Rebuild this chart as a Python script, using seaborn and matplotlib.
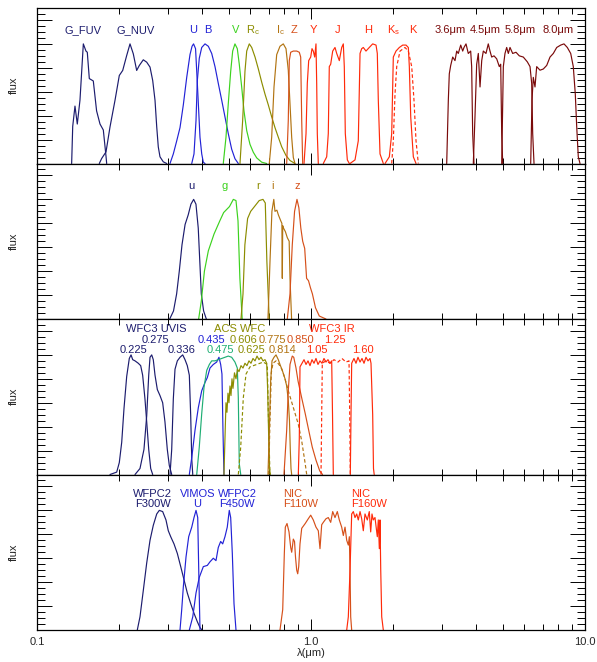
import numpy as np
import pandas as pd
import matplotlib
matplotlib.use("Agg")
import matplotlib.pyplot as plt
import seaborn as sns
from matplotlib.ticker import MultipleLocator, FixedLocator, FixedFormatter, NullFormatter

# ---------------- panel 1: GALEX, Johnson/Cousins, NIR, IRAC ----------------
fuv_wl = [0.1338, 0.1350, 0.1376, 0.1403, 0.1435, 0.1476, 0.1509, 0.1526, 0.1552, 0.1605, 0.1650, 0.1698, 0.1746, 0.1786, 0.1796]
fuv_tr = [0.0, 0.31, 0.48, 0.33, 0.53, 1.0, 0.94, 0.93, 0.71, 0.69, 0.44, 0.33, 0.28, 0.06, 0.0]
nuv_wl = [0.1688, 0.1722, 0.1786, 0.1847, 0.1926, 0.1997, 0.2055, 0.2125, 0.2185, 0.2246, 0.2311, 0.2362, 0.2443, 0.2514, 0.2585, 0.2644, 0.2696, 0.2735, 0.2771, 0.2811, 0.2890, 0.2975]
nuv_tr = [0.0, 0.042, 0.097, 0.306, 0.528, 0.736, 0.778, 0.903, 1.0, 0.917, 0.778, 0.819, 0.867, 0.847, 0.806, 0.694, 0.528, 0.306, 0.139, 0.056, 0.014, 0.0]
U_wl = [0.3058, 0.3144, 0.3236, 0.3326, 0.3420, 0.3519, 0.3617, 0.3680, 0.3727, 0.3790, 0.3828, 0.3880, 0.3934, 0.3992, 0.4046, 0.4104]
U_tr = [0.0, 0.08, 0.19, 0.30, 0.49, 0.72, 0.91, 0.98, 1.0, 0.96, 0.77, 0.50, 0.22, 0.08, 0.01, 0.0]
B_wl = [0.3671, 0.3741, 0.3805, 0.3846, 0.3911, 0.3992, 0.4104, 0.4220, 0.4341, 0.4463, 0.4588, 0.4721, 0.4853, 0.4990, 0.5134, 0.5278, 0.5429]
B_tr = [0.0, 0.08, 0.36, 0.69, 0.88, 0.97, 1.0, 0.98, 0.92, 0.81, 0.67, 0.53, 0.39, 0.25, 0.12, 0.04, 0.0]
V_wl = [0.4785, 0.4895, 0.4990, 0.5092, 0.5178, 0.5278, 0.5383, 0.5473, 0.5585, 0.5694, 0.5826, 0.5989, 0.6158, 0.6336, 0.6608, 0.6891]
V_tr = [0.0, 0.22, 0.50, 0.77, 0.94, 1.0, 0.96, 0.83, 0.64, 0.44, 0.275, 0.16, 0.094, 0.047, 0.011, 0.0]
Rc_wl = [0.5506, 0.5631, 0.5741, 0.5826, 0.5953, 0.6076, 0.6248, 0.6425, 0.6608, 0.6794, 0.6985, 0.7187, 0.7388, 0.7597, 0.7817, 0.8105, 0.8382, 0.8740]
Rc_tr = [0.0, 0.36, 0.77, 0.94, 1.0, 0.97, 0.89, 0.79, 0.68, 0.58, 0.49, 0.39, 0.30, 0.22, 0.14, 0.067, 0.025, 0.0]
Ic_wl = [0.7043, 0.7187, 0.7328, 0.7495, 0.7706, 0.7923, 0.8105, 0.8262, 0.8382, 0.8501, 0.8619, 0.8740]
Ic_tr = [0.0, 0.22, 0.64, 0.91, 0.98, 1.0, 0.96, 0.78, 0.50, 0.22, 0.05, 0.0]
Z_wl = [0.8152, 0.8262, 0.8332, 0.8431, 0.8619, 0.8868, 0.9063, 0.9170, 0.9249, 0.9326]
Z_tr = [0.0, 0.36, 0.86, 0.93, 0.94, 0.94, 0.93, 0.89, 0.36, 0.0]
Y_wl = [0.9430, 0.9590, 0.9694, 0.9808, 0.9975, 1.0084, 1.0195, 1.0316, 1.0428, 1.0490, 1.0544, 1.0632]
Y_tr = [0.0, 0.25, 0.67, 0.86, 0.89, 0.96, 0.94, 0.89, 1.0, 0.67, 0.25, 0.0]
J_wl = [1.1090, 1.1410, 1.1564, 1.1662, 1.1800, 1.2000, 1.2235, 1.2412, 1.2686, 1.2943, 1.3120, 1.3229, 1.3342, 1.3571, 1.3801]
J_tr = [0.0, 0.056, 0.25, 0.81, 0.83, 0.94, 0.97, 0.92, 0.86, 0.97, 1.0, 0.81, 0.25, 0.03, 0.0]
H_wl = [1.388, 1.4475, 1.4880, 1.510, 1.5311, 1.5520, 1.5874, 1.6320, 1.6793, 1.7271, 1.7458, 1.7605, 1.786, 1.8362]
H_tr = [0.0, 0.03, 0.19, 0.92, 0.96, 0.97, 0.94, 0.97, 1.0, 0.99, 0.92, 0.53, 0.08, 0.0]
Ks_wl = [1.8630, 1.9314, 1.9704, 1.9971, 2.0429, 2.1007, 2.1617, 2.2222, 2.2657, 2.2849, 2.3119, 2.3630, 2.4170]
Ks_tr = [0.0, 0.056, 0.25, 0.89, 0.94, 0.97, 0.99, 0.99, 0.97, 0.81, 0.39, 0.056, 0.0]
K_wl = [1.9704, 1.9971, 2.0258, 2.0550, 2.113, 2.2034, 2.2657, 2.3312, 2.3760, 2.4170, 2.4641]
K_tr = [0.0, 0.19, 0.58, 0.81, 0.94, 0.97, 0.94, 0.81, 0.53, 0.19, 0.0]
irac1_wl = [3.128, 3.171, 3.197, 3.235, 3.290, 3.354, 3.402, 3.448, 3.519, 3.578, 3.617, 3.679, 3.750, 3.826, 3.858, 3.891, 3.934]
irac1_tr = [0.0, 0.53, 0.75, 0.82, 0.89, 0.86, 0.94, 0.92, 0.99, 0.94, 0.97, 1.0, 0.92, 0.94, 0.81, 0.25, 0.0]
irac2_wl = [3.912, 3.967, 4.024, 4.080, 4.139, 4.198, 4.255, 4.351, 4.436, 4.501, 4.565, 4.655, 4.761, 4.867, 4.924, 4.966, 5.008]
irac2_tr = [0.0, 0.39, 0.83, 0.92, 0.64, 0.86, 0.94, 0.92, 1.0, 0.94, 0.89, 0.90, 0.875, 0.81, 0.83, 0.25, 0.0]
irac3_wl = [4.966, 5.034, 5.105, 5.178, 5.250, 5.325, 5.446, 5.600, 5.757, 5.954, 6.158, 6.300, 6.389, 6.443, 6.515]
irac3_tr = [0.0, 0.81, 0.92, 0.97, 0.92, 0.97, 0.92, 0.93, 0.90, 0.89, 0.85, 0.81, 0.67, 0.25, 0.0]
irac4_wl = [6.336, 6.406, 6.476, 6.569, 6.663, 6.852, 7.044, 7.249, 7.453, 7.662, 7.884, 8.153, 8.382, 8.619, 8.868, 9.063, 9.217, 9.326, 9.452, 9.590]
irac4_tr = [0.0, 0.53, 0.72, 0.64, 0.81, 0.78, 0.79, 0.82, 0.89, 0.92, 0.97, 0.99, 1.0, 0.97, 0.92, 0.81, 0.58, 0.31, 0.056, 0.0]

# ---------------- panel 2: SDSS ----------------
u_wl = [0.3050, 0.3149, 0.3233, 0.3306, 0.3382, 0.3471, 0.3563, 0.3646, 0.3730, 0.3803, 0.3877, 0.3928, 0.3978, 0.4056, 0.4149]
u_tr = [0.0, 0.067, 0.21, 0.40, 0.62, 0.79, 0.87, 0.96, 1.0, 0.96, 0.76, 0.48, 0.21, 0.067, 0.0]
g_wl = [0.3890, 0.3978, 0.4083, 0.4220, 0.4426, 0.4646, 0.4800, 0.5041, 0.5206, 0.5324, 0.5415, 0.5501, 0.5609]
g_tr = [0.0, 0.15, 0.40, 0.57, 0.71, 0.82, 0.89, 0.94, 1.0, 0.99, 0.82, 0.34, 0.0]
r_wl = [0.5553, 0.5647, 0.5737, 0.5870, 0.6024, 0.6219, 0.6470, 0.6679, 0.6810, 0.6902, 0.7037]
r_tr = [0.0, 0.21, 0.62, 0.84, 0.90, 0.94, 0.99, 1.0, 0.97, 0.48, 0.0]
i_wl = [0.6966, 0.7085, 0.7200, 0.7315, 0.7388, 0.7507, 0.7603, 0.7758, 0.7830, 0.7857, 0.7884, 0.7937, 0.8064, 0.8194, 0.8324, 0.8382, 0.8495]
i_tr = [0.0, 0.48, 0.90, 1.0, 0.90, 0.91, 0.87, 0.82, 0.80, 0.34, 0.78, 0.76, 0.73, 0.68, 0.65, 0.34, 0.0]
z_wl = [0.8194, 0.8382, 0.8544, 0.8710, 0.8889, 0.9031, 0.9180, 0.9326, 0.9484, 0.9636, 0.9792, 0.9958, 1.0118, 1.0385, 1.0722, 1.1334]
z_tr = [0.0, 0.21, 0.62, 0.90, 1.0, 0.93, 0.76, 0.65, 0.59, 0.34, 0.32, 0.26, 0.21, 0.094, 0.025, 0.0]

# ---------------- panel 3: HST WFC3 UVIS, ACS WFC, WFC3 IR ----------------
uvis225_wl = [0.1847, 0.1954, 0.1997, 0.2038, 0.2077, 0.2125, 0.2172, 0.2204, 0.2235, 0.2279, 0.2342, 0.2390, 0.2430, 0.2478, 0.2514, 0.2557, 0.2600, 0.2644]
uvis225_tr = [0.0, 0.02, 0.10, 0.27, 0.55, 0.82, 0.97, 1.0, 0.96, 0.95, 0.93, 0.91, 0.83, 0.63, 0.44, 0.21, 0.05, 0.0]
uvis275_wl = [0.2279, 0.2376, 0.2457, 0.2514, 0.2557, 0.2585, 0.2622, 0.2657, 0.2696, 0.2749, 0.2811, 0.2875, 0.2931, 0.2989, 0.3040, 0.3102]
uvis275_tr = [0.0, 0.05, 0.21, 0.49, 0.83, 0.98, 1.0, 0.96, 0.83, 0.71, 0.66, 0.60, 0.44, 0.21, 0.075, 0.0]
uvis336_wl = [0.3058, 0.3102, 0.3144, 0.3189, 0.3252, 0.3326, 0.3402, 0.3469, 0.3536, 0.3597, 0.3639, 0.3671, 0.3702]
uvis336_tr = [0.0, 0.21, 0.63, 0.88, 0.95, 0.98, 1.0, 0.96, 0.91, 0.83, 0.49, 0.13, 0.0]
acs435_wl = [0.3597, 0.3671, 0.3773, 0.3880, 0.3992, 0.4104, 0.4184, 0.4279, 0.4400, 0.4526, 0.4614, 0.4681, 0.4732, 0.4772, 0.4812]
acs435_tr = [0.0, 0.14, 0.37, 0.56, 0.70, 0.77, 0.81, 0.89, 0.92, 0.94, 0.98, 0.92, 0.84, 0.37, 0.0]
acs475_wl = [0.3828, 0.3911, 0.3992, 0.4070, 0.4163, 0.4256, 0.4341, 0.4463, 0.4588, 0.4721, 0.4853, 0.4990, 0.5134, 0.5278, 0.5383, 0.5429, 0.5473, 0.5540]
acs475_tr = [0.0, 0.23, 0.51, 0.73, 0.87, 0.92, 0.95, 0.95, 0.96, 0.97, 0.98, 0.99, 0.98, 0.94, 0.89, 0.64, 0.09, 0.0]
acs606_wl = [0.4812, 0.4853, 0.4895, 0.4935, 0.4978, 0.5019, 0.5062, 0.5105, 0.5148, 0.5191, 0.5257, 0.5324, 0.5392, 0.5460, 0.5553, 0.5647,
             0.5741, 0.5838, 0.5937, 0.6039, 0.6141, 0.6248, 0.6353, 0.6459, 0.6570, 0.6679, 0.6794, 0.6891, 0.6950, 0.7009, 0.7057, 0.7106]
acs606_tr = [0.0, 0.30, 0.60, 0.52, 0.68, 0.60, 0.74, 0.66, 0.80, 0.72, 0.85, 0.80, 0.88, 0.86, 0.91, 0.89,
             0.93, 0.91, 0.95, 0.93, 0.97, 0.95, 0.99, 0.96, 0.98, 0.95, 0.96, 0.93, 0.70, 0.30, 0.05, 0.0]
acs625_wl = [0.5429, 0.5540, 0.5661, 0.5793, 0.5989, 0.6336, 0.6696, 0.6925, 0.7009, 0.7085]
acs625_tr = [0.0, 0.23, 0.64, 0.84, 0.90, 0.92, 0.94, 0.92, 0.37, 0.0]
acs775_wl = [0.6966, 0.7043, 0.7124, 0.7207, 0.7328, 0.7454, 0.7597, 0.7706, 0.7884, 0.8038, 0.8152, 0.8262, 0.8346, 0.8405, 0.8453, 0.8501]
acs775_tr = [0.0, 0.35, 0.78, 0.95, 0.98, 1.0, 0.96, 0.92, 0.86, 0.80, 0.74, 0.62, 0.45, 0.2, 0.05, 0.0]
acs814_wl = [0.7009, 0.7085, 0.7162, 0.7265, 0.7454, 0.7637, 0.7832, 0.8038, 0.8262, 0.8619, 0.8989, 0.9249, 0.9524, 0.9645]
acs814_tr = [0.0, 0.45, 0.85, 0.93, 0.95, 0.92, 0.88, 0.80, 0.70, 0.56, 0.42, 0.28, 0.09, 0.0]
acs850_wl = [0.7968, 0.8152, 0.8262, 0.8382, 0.8544, 0.8650, 0.8816, 0.8971, 0.9249, 0.9524, 0.9808, 1.0104, 1.0428, 1.0762, 1.1020]
acs850_tr = [0.0, 0.37, 0.70, 0.92, 0.99, 0.98, 0.89, 0.78, 0.64, 0.51, 0.37, 0.23, 0.12, 0.03, 0.0]
ir105_wl = [0.8989, 0.9063, 0.9117, 0.9273, 0.9430, 0.9590, 0.9752, 0.9917, 1.0084, 1.0255, 1.0428, 1.0606, 1.0785, 1.0967, 1.1153, 1.1341,
            1.1534, 1.173, 1.1899, 1.1982, 1.2062]
ir105_tr = [0.0, 0.3, 0.90, 0.93, 0.96, 0.92, 0.95, 0.91, 0.96, 0.93, 0.97, 0.92, 0.95, 0.93, 0.97, 0.94, 0.96, 0.93, 0.95, 0.5, 0.0]
ir125_wl = [1.0878, 1.0940, 1.0996, 1.1341, 1.173, 1.2131, 1.2545, 1.2974, 1.3416, 1.3765, 1.3845, 1.3915]
ir125_tr = [0.0, 0.5, 0.93, 0.95, 0.93, 0.96, 0.94, 0.97, 0.94, 0.95, 0.5, 0.0]
ir160_wl = [1.3915, 1.3996, 1.4076, 1.4351, 1.4594, 1.4842, 1.510, 1.5351, 1.5612, 1.5874, 1.6144, 1.642, 1.6557, 1.6793, 1.6906, 1.7008]
ir160_tr = [0.0, 0.5, 0.93, 0.97, 0.93, 0.98, 0.94, 0.97, 0.93, 0.98, 0.95, 0.97, 0.93, 0.5, 0.05, 0.0]

# ---------------- panel 4: WFPC2, VIMOS, NICMOS ----------------
f300w_wl = [0.2323, 0.2376, 0.2443, 0.2514, 0.2585, 0.2657, 0.2735, 0.2795, 0.2875, 0.2956, 0.3014, 0.3076, 0.3162, 0.3252, 0.3346, 0.3440,
            0.3536, 0.3639, 0.3741, 0.3846, 0.3934, 0.4002]
f300w_tr = [0.0, 0.11, 0.33, 0.56, 0.75, 0.875, 0.97, 1.0, 0.99, 0.92, 0.83, 0.78, 0.72, 0.64, 0.53, 0.42, 0.31, 0.22, 0.14, 0.07, 0.02, 0.0]
vimos_u_wl = [0.3326, 0.3374, 0.3420, 0.3498, 0.3578, 0.3671, 0.3741, 0.3805, 0.3860, 0.3893, 0.3934]
vimos_u_tr = [0.0, 0.17, 0.36, 0.61, 0.78, 0.86, 0.94, 1.0, 0.94, 0.5, 0.0]
f450w_wl = [0.3597, 0.3702, 0.3805, 0.3911, 0.4046, 0.4184, 0.4279, 0.4400, 0.4500, 0.4588, 0.4681, 0.4761, 0.4853, 0.4948, 0.5032, 0.5092,
            0.5162, 0.5236, 0.5324]
f450w_tr = [0.0, 0.11, 0.31, 0.44, 0.53, 0.54, 0.57, 0.60, 0.58, 0.69, 0.74, 0.72, 0.78, 0.86, 1.0, 0.94, 0.64, 0.22, 0.0]
f110w_wl = [0.7706, 0.7884, 0.7992, 0.8059, 0.8175, 0.8313, 0.8431, 0.8503, 0.8619, 0.8707, 0.8779, 0.8868, 0.8944, 0.9019, 0.9117, 0.9249,
            0.9524, 0.9774, 0.9975, 1.0195, 1.0428, 1.0632, 1.0785, 1.0940, 1.1090, 1.1341, 1.1564, 1.1800, 1.2000, 1.2235, 1.2475, 1.2686,
            1.2943, 1.3120, 1.3310, 1.3500, 1.3683, 1.3801, 1.388, 1.3959, 1.4076]
f110w_tr = [0.0, 0.17, 0.64, 0.86, 0.89, 0.82, 0.69, 0.65, 0.76, 0.74, 0.61, 0.50, 0.47, 0.53, 0.72, 0.85,
            0.89, 0.93, 0.96, 0.92, 0.86, 0.83, 0.68, 0.88, 0.90, 0.93, 0.94, 0.90, 0.99, 0.94, 0.99, 0.92,
            0.86, 0.79, 0.86, 0.75, 0.71, 0.78, 0.50, 0.11, 0.0]
f160w_wl = [1.3500, 1.3683, 1.388, 1.4076, 1.4270, 1.4475, 1.4683, 1.4880, 1.510, 1.5311, 1.5520, 1.5743, 1.6049, 1.6320, 1.6514, 1.6695,
            1.6879, 1.7122, 1.7458, 1.7605, 1.7756, 1.786, 1.7968, 1.8117, 1.8362]
f160w_tr = [0.0, 0.11, 0.5, 0.97, 0.99, 0.94, 0.97, 0.92, 0.99, 0.93, 0.83, 0.97, 0.92, 0.99, 0.82, 0.97,
            0.92, 0.94, 0.78, 0.92, 0.68, 0.92, 0.5, 0.11, 0.0]

# ---------------- labels ----------------
p1_text = ['G_FUV', 'G_NUV', 'U', 'B', 'V', 'R$_c$', 'I$_c$', 'Z', 'Y', 'J', 'H', 'K$_s$', 'K',
           '3.6μm', '4.5μm', '5.8μm', '8.0μm']
p1_text_wl = [0.1472, 0.2298, 0.3702, 0.4207, 0.5324, 0.6141, 0.7706, 0.8693, 1.0195, 1.2516, 1.6103, 1.9971, 2.3507,
              3.216, 4.341, 5.792, 7.990]
p2_text = ['u', 'g', 'r', 'i', 'z']
p2_text_wl = [0.3671, 0.4828, 0.6428, 0.7265, 0.8913]
p3_text = ['WFC3 UVIS', '0.275', '0.225', '0.336', '0.435', '0.475', 'ACS WFC', '0.606', '0.625', '0.775', '0.814', '0.850',
           'WFC3 IR', '1.25', '1.05', '1.60']
p3_text_wl = [0.2735, 0.2696, 0.2246, 0.3374, 0.4341, 0.4654, 0.5506, 0.5661, 0.6076, 0.7246, 0.7884, 0.9117,
              1.1899, 1.2235, 1.0490, 1.5444]
p3_text_row = [0, 1, 2, 2, 1, 2, 0, 1, 2, 1, 2, 1, 0, 1, 2, 2]
p4_text_top = ['WFPC2', 'VIMOS', 'WFPC2', 'NIC', 'NIC']
p4_text_bot = ['F300W', 'U', 'F450W', 'F110W', 'F160W']
p4_top_wl = [0.2644, 0.3846, 0.5383, 0.8562, 1.5225]
p4_bot_wl = [0.2644, 0.3828, 0.5383, 0.9194, 1.6320]

NAVY = '#1c1c6e'
BLUE = '#2222d6'
GREEN = '#3cd21e'
OLIVE = '#8c8c00'
BROWN = '#b27412'
ORANGE = '#d6501a'
RED = '#ff2a0a'
DARKRED = '#7a0a0a'
TEAL = '#1fae74'

DASH = (3, 2)

panels = [
    [('G_FUV', fuv_wl, fuv_tr, NAVY, ''), ('G_NUV', nuv_wl, nuv_tr, NAVY, ''),
     ('U', U_wl, U_tr, BLUE, ''), ('B', B_wl, B_tr, BLUE, ''), ('V', V_wl, V_tr, GREEN, ''),
     ('Rc', Rc_wl, Rc_tr, OLIVE, ''), ('Ic', Ic_wl, Ic_tr, BROWN, ''), ('Z', Z_wl, Z_tr, ORANGE, ''),
     ('Y', Y_wl, Y_tr, RED, ''), ('J', J_wl, J_tr, RED, ''), ('H', H_wl, H_tr, RED, ''),
     ('Ks', Ks_wl, Ks_tr, RED, ''), ('K', K_wl, K_tr, RED, DASH),
     ('I1', irac1_wl, irac1_tr, DARKRED, ''), ('I2', irac2_wl, irac2_tr, DARKRED, ''),
     ('I3', irac3_wl, irac3_tr, DARKRED, ''), ('I4', irac4_wl, irac4_tr, DARKRED, '')],
    [('u', u_wl, u_tr, NAVY, ''), ('g', g_wl, g_tr, GREEN, ''), ('r', r_wl, r_tr, OLIVE, ''),
     ('i', i_wl, i_tr, BROWN, ''), ('z', z_wl, z_tr, ORANGE, '')],
    [('225', uvis225_wl, uvis225_tr, NAVY, ''), ('275', uvis275_wl, uvis275_tr, NAVY, ''),
     ('336', uvis336_wl, uvis336_tr, NAVY, ''), ('435', acs435_wl, acs435_tr, BLUE, ''),
     ('475', acs475_wl, acs475_tr, TEAL, ''), ('606', acs606_wl, acs606_tr, OLIVE, ''),
     ('625', acs625_wl, acs625_tr, OLIVE, DASH), ('775', acs775_wl, acs775_tr, BROWN, ''),
     ('814', acs814_wl, acs814_tr, BROWN, DASH), ('850', acs850_wl, acs850_tr, ORANGE, ''),
     ('105', ir105_wl, ir105_tr, RED, ''), ('125', ir125_wl, ir125_tr, RED, DASH),
     ('160', ir160_wl, ir160_tr, RED, '')],
    [('F300W', f300w_wl, f300w_tr, NAVY, ''), ('VU', vimos_u_wl, vimos_u_tr, BLUE, ''),
     ('F450W', f450w_wl, f450w_tr, BLUE, ''), ('F110W', f110w_wl, f110w_tr, ORANGE, ''),
     ('F160W', f160w_wl, f160w_tr, RED, '')],
]

p1_colors = [NAVY, NAVY, BLUE, BLUE, GREEN, OLIVE, BROWN, ORANGE, RED, RED, RED, RED, RED,
             DARKRED, DARKRED, DARKRED, DARKRED]
p2_colors = [NAVY, GREEN, OLIVE, BROWN, ORANGE]
p3_colors = [NAVY, NAVY, NAVY, NAVY, BLUE, TEAL, OLIVE, OLIVE, OLIVE, BROWN, BROWN, ORANGE, RED, RED, RED, RED]
p4_colors = [NAVY, BLUE, BLUE, ORANGE, RED]

sns.set_style('ticks')
plt.rcParams['font.family'] = ['Liberation Sans', 'DejaVu Sans']
plt.rcParams['mathtext.default'] = 'regular'
plt.rcParams['axes.linewidth'] = 0.9

fig, axes = plt.subplots(4, 1, figsize=(5.97, 6.62), dpi=100, sharex=True, gridspec_kw=dict(hspace=0))
fig.subplots_adjust(left=37 / 597, right=585 / 597, top=1 - 8 / 662, bottom=1 - 630 / 662)

for ax, bands in zip(axes, panels):
    df = pd.concat([pd.DataFrame({'wl': w, 'tr': t, 'band': n}) for n, w, t, c, d in bands], ignore_index=True)
    pal = {n: c for n, w, t, c, d in bands}
    dsh = {n: d for n, w, t, c, d in bands}
    sns.lineplot(data=df, x='wl', y='tr', hue='band', style='band', palette=pal, dashes=dsh,
                 estimator=None, sort=False, legend=False, lw=0.85, ax=ax)
    ax.set_xscale('log')
    ax.set_xlim(0.1, 10.0)
    ax.set_ylim(0, 1.3)
    ax.yaxis.set_major_locator(MultipleLocator(0.2))
    ax.yaxis.set_minor_locator(MultipleLocator(0.05))
    ax.xaxis.set_major_locator(FixedLocator([0.1, 1.0, 10.0]))
    ax.xaxis.set_minor_locator(FixedLocator([k * 0.1 for k in range(2, 10)] + list(range(2, 10))))
    ax.xaxis.set_minor_formatter(NullFormatter())
    ax.tick_params(which='both', direction='in', top=True, right=True, labelleft=False, width=0.7, color='black')
    ax.tick_params(axis='y', which='major', length=11)
    ax.tick_params(axis='y', which='minor', length=6)
    ax.tick_params(axis='x', which='major', length=8)
    ax.tick_params(axis='x', which='minor', length=4)
    ax.set_ylabel('flux', fontsize=8)
    ax.yaxis.set_label_coords(-0.033, 0.5)
    ax.set_xlabel('')
    for s in ax.spines.values():
        s.set_color('black')

for s, w, c in zip(p1_text, p1_text_wl, p1_colors):
    axes[0].text(w, 1.117, s, color=c, ha='center', va='center', fontsize=8)
for s, w, c in zip(p2_text, p2_text_wl, p2_colors):
    axes[1].text(w, 1.108, s, color=c, ha='center', va='center', fontsize=8)
row_y = [1.214, 1.125, 1.042]
for s, w, r, c in zip(p3_text, p3_text_wl, p3_text_row, p3_colors):
    axes[2].text(w, row_y[r], s, color=c, ha='center', va='center', fontsize=8)
for s1, s2, w1, w2, c in zip(p4_text_top, p4_text_bot, p4_top_wl, p4_bot_wl, p4_colors):
    axes[3].text(w1, 1.139, s1, color=c, ha='center', va='center', fontsize=8)
    axes[3].text(w2, 1.05, s2, color=c, ha='center', va='center', fontsize=8)

axes[3].xaxis.set_major_formatter(FixedFormatter(['0.1', '1.0', '10.0']))
axes[3].tick_params(axis='x', which='major', labelsize=8, pad=5)
axes[3].set_xlabel('λ(μm)', fontsize=8)
axes[3].xaxis.set_label_coords(0.5, -0.115)

fig.savefig('out.png', dpi=100)
